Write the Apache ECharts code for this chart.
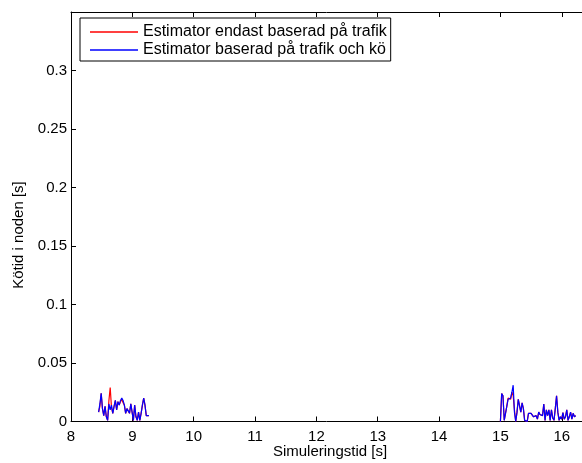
<!DOCTYPE html>
<html>
<head>
<meta charset="utf-8">
<script src="https://cdn.jsdelivr.net/npm/echarts@6/dist/echarts.min.js"></script>
<style>
  html, body { margin: 0; padding: 0; background: #fff; }
  #chart { width: 582px; height: 463px; }
</style>
</head>
<body>
<div id="chart"></div>
<script>
// Queueing delay in the node during two traffic bursts, for two estimators.
const seriesNames = [
  'Estimator endast baserad på trafik',
  'Estimator baserad på trafik och kö'
];

// First burst: sampled from 8.45 s with a fixed sample step
const burst1Start = 8.45;
const burst1Step = 0.021;
const burst1Traffic = [0.008, 0.013, 0.024, 0.011, 0.005, 0.013, 0.004, 0.001, 0.018, 0.029,
  0.012, 0.007, 0.013, 0.018, 0.010, 0.017, 0.014, 0.017, 0.019, 0.016,
  0.014, 0.007, 0.011, 0.010, 0.007, 0.015, 0.008, 0.001, 0.014, 0.004,
  0.001, 0.008, 0.001, 0.007, 0.014, 0.020, 0.014, 0.005, 0.005, 0.005];
const burst1TrafficQueue = [0.008, 0.015, 0.024, 0.011, 0.005, 0.013, 0.004, 0.001, 0.015, 0.010,
  0.014, 0.007, 0.013, 0.018, 0.010, 0.017, 0.014, 0.018, 0.020, 0.018,
  0.014, 0.007, 0.011, 0.010, 0.007, 0.015, 0.008, 0.001, 0.014, 0.004,
  0.001, 0.008, 0.001, 0.007, 0.014, 0.020, 0.014, 0.005, 0.005, 0.005];

// Second burst: sampled from 15.0 s
const burst2Start = 15.0;
const burst2Step = 0.0208;
const burst2Traffic = [0.000, 0.024, 0.022, 0.001, 0.001, 0.013, 0.020, 0.020, 0.019, 0.025,
  0.022, 0.010, 0.000, 0.008, 0.019, 0.020, 0.008, 0.016, 0.011, 0.001,
  0.000, 0.000, 0.007, 0.008, 0.007, 0.0075, 0.004, 0.003, 0.005, 0.002,
  0.008, 0.006, 0.0075, 0.005, 0.015, 0.001, 0.010, 0.005, 0.010, 0.001,
  0.010, 0.003, 0.001, 0.011, 0.022, 0.008, 0.001, 0.004, 0.002, 0.0075,
  0.002, 0.004, 0.010, 0.001, 0.004, 0.008, 0.002, 0.007, 0.004, 0.005];
const burst2TrafficQueue = [0.000, 0.024, 0.022, 0.001, 0.001, 0.013, 0.019, 0.019, 0.020, 0.025,
  0.031, 0.008, 0.000, 0.008, 0.019, 0.020, 0.008, 0.016, 0.011, 0.001,
  0.000, 0.000, 0.007, 0.008, 0.007, 0.0075, 0.004, 0.003, 0.005, 0.002,
  0.008, 0.006, 0.0075, 0.005, 0.015, 0.001, 0.010, 0.005, 0.010, 0.001,
  0.010, 0.003, 0.001, 0.011, 0.022, 0.008, 0.001, 0.004, 0.002, 0.0075,
  0.002, 0.004, 0.010, 0.001, 0.004, 0.008, 0.002, 0.007, 0.004, 0.005];

const xTicks = [8, 9, 10, 11, 12, 13, 14, 15, 16];
const yTicks = [0, 0.05, 0.1, 0.15, 0.2, 0.25, 0.3];
const xLabel = 'Simuleringstid [s]';
const yLabel = 'Kötid i noden [s]';

const FONT = '"Liberation Sans", Arial, Helvetica, sans-serif';
const FS = 15;

// Join both bursts into one series, with a gap between them
function joinBursts(a, aStart, aStep, b, bStart, bStep) {
  const out = a.map((v, i) => [aStart + i * aStep, v]);
  out.push(null);
  b.forEach((v, i) => out.push([bStart + i * bStep, v]));
  return out;
}

const onList = (list) => (v) => {
  const hit = list.find(t => Math.abs(t - v) < 1e-9);
  return hit === undefined ? '' : String(hit);
};

const chart = echarts.init(document.getElementById('chart'), null, { renderer: 'canvas' });

const xCommon = {
  type: 'value', min: 8, max: 16.33, interval: 1,
  splitLine: { show: false },
  axisLine: { show: true, lineStyle: { color: '#000', width: 1 } },
  axisTick: { show: true, inside: true, length: 5, lineStyle: { color: '#000' } }
};

chart.setOption({
  animation: false,
  backgroundColor: '#fff',
  textStyle: { fontFamily: FONT },
  grid: { left: 71, top: 12, width: 511, height: 409.5, containLabel: false, outerBoundsMode: 'none' },
  legend: {
    orient: 'vertical', left: 80, top: 18,
    itemWidth: 48, itemHeight: 1.5, itemGap: 0,
    icon: 'rect',
    padding: [5, 4, 2, 10],
    borderColor: '#000', borderWidth: 1, backgroundColor: '#fff',
    textStyle: { fontSize: 16, color: '#000', fontFamily: FONT, lineHeight: 18 },
    data: seriesNames
  },
  xAxis: [
    Object.assign({}, xCommon, {
      position: 'bottom',
      axisLabel: { show: true, color: '#000', fontSize: FS, fontFamily: FONT, margin: 8,
        formatter: onList(xTicks), showMaxLabel: true }
    }),
    Object.assign({}, xCommon, {
      position: 'top',
      axisLabel: { show: false }
    })
  ],
  yAxis: {
    type: 'value', min: 0, max: 0.35, interval: 0.05,
    splitLine: { show: false },
    axisLine: { show: true, lineStyle: { color: '#000', width: 1 } },
    axisTick: { show: true, inside: true, length: 5, lineStyle: { color: '#000' } },
    axisLabel: { show: true, color: '#000', fontSize: FS, fontFamily: FONT, margin: 4,
      formatter: onList(yTicks) }
  },
  graphic: [
    {
      type: 'text',
      x: 330, y: 452,
      style: { text: xLabel, fill: '#000', font: FS + 'px ' + FONT,
        textAlign: 'center', textVerticalAlign: 'middle' }
    },
    {
      type: 'text',
      x: 19, y: 235, rotation: Math.PI / 2,
      style: { text: yLabel, fill: '#000', font: FS + 'px ' + FONT,
        textAlign: 'center', textVerticalAlign: 'middle' }
    }
  ],
  series: [
    {
      name: seriesNames[0], type: 'line', showSymbol: false, connectNulls: false,
      color: '#ff0000', lineStyle: { width: 1.2, color: '#ff0000' },
      data: joinBursts(burst1Traffic, burst1Start, burst1Step, burst2Traffic, burst2Start, burst2Step)
    },
    {
      name: seriesNames[1], type: 'line', showSymbol: false, connectNulls: false,
      color: '#0000ff', lineStyle: { width: 1.2, color: '#0000ff' },
      data: joinBursts(burst1TrafficQueue, burst1Start, burst1Step, burst2TrafficQueue, burst2Start, burst2Step)
    }
  ]
});
</script>
</body>
</html>
